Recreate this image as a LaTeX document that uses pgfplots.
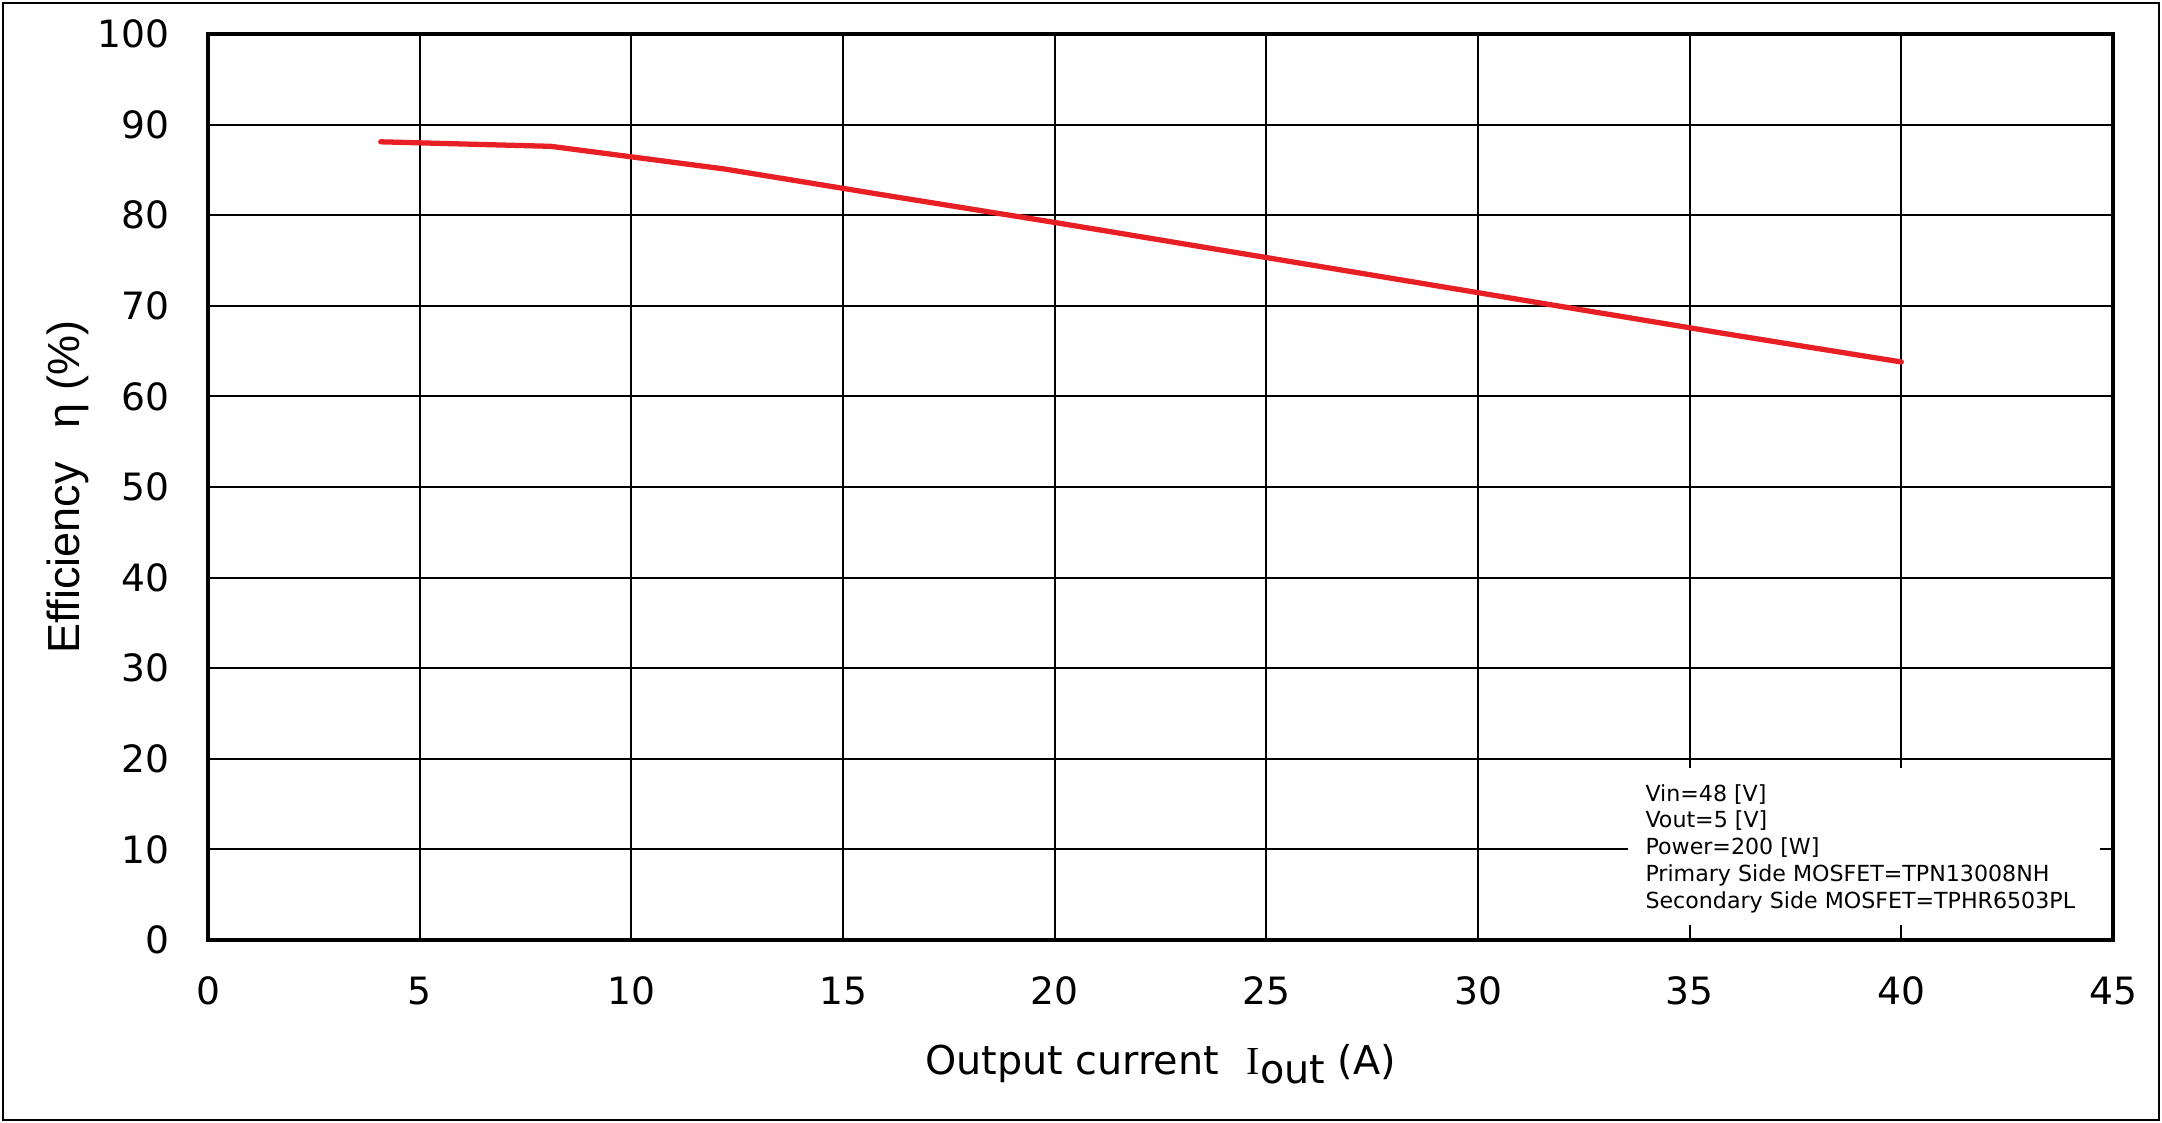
\documentclass[border=0pt]{standalone}
\usepackage{pgfplots}
\pgfplotsset{compat=1.18}
\usepackage{fontspec}
\setmainfont{DejaVu Sans}
\newfontfamily\arialfont{Liberation Sans}
\newfontfamily\seriffont{Liberation Serif}
\definecolor{curvered}{RGB}{232,32,38}
\begin{document}
\begin{tikzpicture}
\useasboundingbox (0,0) rectangle (21.62cm,11.23cm);
\draw[line width=0.6pt] (0.03cm,0.03cm) rectangle (21.59cm,11.20cm);
\begin{axis}[
  at={(2.08cm,1.83cm)}, anchor=south west,
  scale only axis, width=19.05cm, height=9.06cm,
  xmin=0, xmax=45, ymin=0, ymax=100,
  xtick={0,5,...,45}, ytick={0,10,...,100},
  grid=major,
  major grid style={black, line width=0.6pt},
  axis line style={line width=1.15pt},
  major tick length=0pt,
  tick style={draw=none},
  /pgf/number format/assume math mode=true,
  ticklabel style={font=\fontsize{10.7}{13}\selectfont},
  yticklabel style={xshift=-7.5pt},
  xticklabel style={yshift=-7pt},
  xlabel={Output current\hspace{0.7em}{\seriffont I}\raisebox{-2.3pt}{out} (A)},
  xlabel style={font=\fontsize{11.3}{13}\selectfont, at={(axis description cs:0.5,-0.149)}, anchor=base},
  ylabel={\arialfont Efficiency\hspace{0.75em}η\hspace{0.3em}(\%)},
  ylabel style={font=\fontsize{12.8}{15}\selectfont, at={(axis description cs:-0.0672,0.5)}, anchor=base},
]
\addplot[curvered, line width=1.5pt, line cap=round, line join=round] coordinates {
  (4.08,88.1) (8.1,87.6) (12.2,85.1) (16,82.2) (20,79.2) (24,76.1)
  (28,73.0) (32,69.9) (36,66.8) (40,63.8)
};
\fill[white] (axis cs:33.55,1.66) rectangle (axis cs:44.7,19.0);
\node[anchor=north west, align=left, inner sep=0pt,
      font=\fontsize{6.3}{7.6}\selectfont] at (axis cs:33.94,17.25)
  {Vin=48 [V]\\Vout=5 [V]\\Power=200 [W]\\Primary Side MOSFET=TPN13008NH\\Secondary Side MOSFET=TPHR6503PL};
\end{axis}
\end{tikzpicture}
\end{document}
